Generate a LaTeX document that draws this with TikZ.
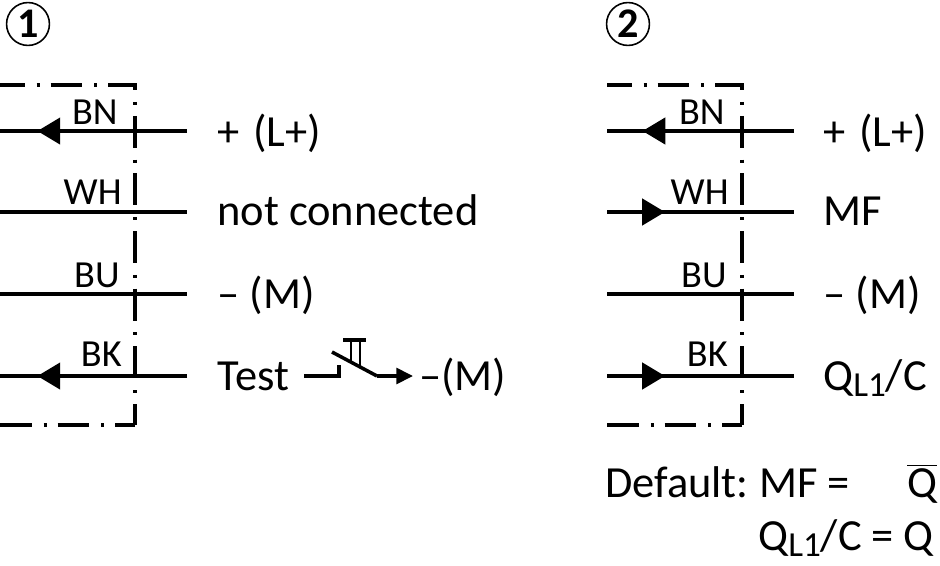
\documentclass[tikz,border=0pt]{standalone}
\usepackage{fontspec}
\setmainfont{Carlito}
\usetikzlibrary{arrows.meta}
\usetikzlibrary{decorations.markings}
\tikzset{
	wire/.style={line width=2pt},
	housing/.style={line width=2pt, dash pattern=on 18.1pt off 6.8pt on 1.7pt off 6.2pt, dash phase=4pt},
	lbl/.style={anchor=base west, inner sep=0pt, font=\fontsize{25.3}{25.3}\selectfont},
	colour/.style={anchor=base east, inner sep=0pt, font=\fontsize{21.8}{21.8}\selectfont},
	numdot/.style={circle, draw, line width=0.9pt, minimum size=24.4pt, inner sep=0pt, font=\fontsize{24}{24}\selectfont\bfseries},
	pointer/.style={postaction={decorate}, decoration={markings, mark=at position #1 with {\arrow{Triangle[length=13pt,width=15pt]}}}},
}
\newcommand{\sub}[1]{\raisebox{-0.15em}{\fontsize{20}{20}\selectfont #1}}
\begin{document}
\begin{tikzpicture}[x=0.02cm,y=-0.02cm]
	\useasboundingbox (0,0) rectangle (940,565);
	\node [numdot] (num1) at (28,24) {1};
	\node [numdot] (num2) at (628,24) {2};
	% housings
	\draw [housing] (0,85) -- (135,85) -- (135,425);
	\draw [housing,dash phase=0pt] (0,425) -- (135,425);
	\draw [housing] (607,85) -- (742,85) -- (742,425);
	\draw [housing,dash phase=0pt] (607,425) -- (742,425);
	% wires, left
	\foreach \name/\y in {bn/131,wh/212,bu/294,bk/376}{
		\coordinate (a\name) at (0,\y);
		\coordinate (b\name) at (187,\y);
		\coordinate (c\name) at (607,\y);
		\coordinate (d\name) at (794,\y);
	}
	\draw [wire,pointer=0.8] (bbn) -- (abn);
	\draw [wire] (awh) -- (bwh);
	\draw [wire] (abu) -- (bbu);
	\draw [wire,pointer=0.8] (bbk) -- (abk);
	% wires, right
	\draw [wire,pointer=0.81] (dbn) -- (cbn);
	\draw [wire,pointer=0.31] (cwh) -- (dwh);
	\draw [wire] (cbu) -- (dbu);
	\draw [wire,pointer=0.31] (cbk) -- (dbk);
	% colour codes
	\node [colour] (bn1) at (118,124) {BN};
	\node [colour] (wh1) at (122,204) {WH};
	\node [colour] (bu1) at (120,287) {BU};
	\node [colour] (bk1) at (122,366) {BK};
	\node [colour] (bn2) at (725,124) {BN};
	\node [colour] (wh2) at (729,204) {WH};
	\node [colour] (bu2) at (727,287) {BU};
	\node [colour] (bk2) at (728,366) {BK};
	% terminals
	\node [lbl] (plus1) at (217,146) {+\kern 2pt\ (L+)};
	\node [lbl] (nc) at (217,225) {not connected};
	\node [lbl] (minus1) at (217,308) {– (M)};
	\node [lbl] (test) at (217,390) {Test};
	\node [lbl] (testm) at (419,390) {–(M)};
	\node [lbl] (plus2) at (823,146) {+\kern 2pt\ (L+)};
	\node [lbl] (mf) at (823,225) {MF};
	\node [lbl] (minus2) at (823,308) {– (M)};
	\node [lbl] (ql) at (823,390) {Q\sub{L1}/C};
	\node [lbl] (def1) at (605,497) {Default:\kern 6pt MF =};
	\node [lbl] (qbar) at (907,497) {$\overline{\mbox{Q}}$};
	\node [lbl] (def2) at (758,550) {Q\sub{L1}/C = Q};
	% test switch
	\coordinate (sw1) at (304,376);
	\coordinate (sw2) at (339,376);
	\coordinate (sw3) at (339,365);
	\coordinate (sw4) at (332,352);
	\coordinate (sw5) at (377,376);
	\coordinate (sw6) at (413,376);
	\draw [wire] (sw1) -- (sw2) -- (sw3);
	\draw [wire] (sw4) -- (sw5);
	\draw [wire,-{Triangle[length=9.5pt,width=9pt]}] (sw5) -- (sw6);
	\draw [wire] (343,340) -- (366,340);
	\draw [wire,line width=1.7pt] (351,340) -- (351,362);
	\draw [wire,line width=1.7pt] (360,340) -- (360,366);
\end{tikzpicture}
\end{document}
